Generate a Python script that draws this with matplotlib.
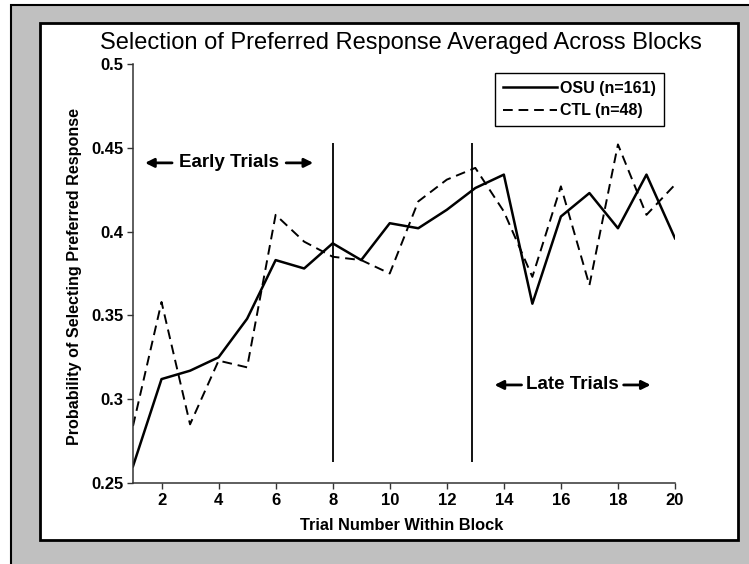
import matplotlib
matplotlib.use('Agg')
import matplotlib.pyplot as plt
from matplotlib.patches import Rectangle

# data
trials = list(range(1, 21))
osu = [0.260, 0.312, 0.317, 0.325, 0.348, 0.383, 0.378, 0.393, 0.383, 0.405,
       0.402, 0.413, 0.426, 0.434, 0.357, 0.409, 0.423, 0.402, 0.434, 0.396]
ctl = [0.284, 0.358, 0.285, 0.323, 0.319, 0.410, 0.394, 0.385, 0.383, 0.375,
       0.418, 0.431, 0.438, 0.412, 0.373, 0.427, 0.368, 0.452, 0.410, 0.428]
osu_label = 'OSU (n=161)'
ctl_label = 'CTL (n=48)'
divider_x = [8, 12.87]
xticks = list(range(2, 21, 2))
yticks = [0.25, 0.3, 0.35, 0.4, 0.45, 0.5]
ytick_labels = ['0.25', '0.3', '0.35', '0.4', '0.45', '0.5']

plt.rcParams['font.family'] = ['Liberation Sans', 'DejaVu Sans']

W, H = 749, 564
PX = 1 / 28.5  # trial units per pixel along x
fig = plt.figure(figsize=(W / 100, H / 100), dpi=100)
fig.patch.set_facecolor('white')

# gray frame and white panel behind the chart
fig.add_artist(Rectangle((11 / W, -0.1), 1.2, 1 - 5 / H + 0.1, transform=fig.transFigure,
                         facecolor='#c0c0c0', edgecolor='black', lw=1.5, zorder=-5))
fig.add_artist(Rectangle((40 / W, 1 - 540 / H), (738 - 40) / W, (540 - 23) / H,
                         transform=fig.transFigure, facecolor='white',
                         edgecolor='black', lw=2, zorder=-4))

ax = fig.add_axes([133 / W, 1 - 483 / H, (675 - 133) / W, (483 - 64) / H])
ax.patch.set_alpha(0)

ax.plot(trials, osu, color='black', lw=1.8, label=osu_label)
ax.plot(trials, ctl, color='black', lw=1.4, dashes=(5, 3), label=ctl_label)
ax.vlines(divider_x, 0.2625, 0.453, color='black', lw=1.3)

ax.set_xlim(1, 20)
ax.set_ylim(0.25, 0.5)
ax.set_xticks(xticks)
ax.set_yticks(yticks)
ax.set_yticklabels(ytick_labels)
for s in ['top', 'right']:
    ax.spines[s].set_visible(False)
for s in ['left', 'bottom']:
    ax.spines[s].set_color('#333333')
    ax.spines[s].set_linewidth(1.1)
ax.tick_params(direction='out', length=4, width=1, color='#333333',
               labelsize=12, pad=3)
for lab in ax.get_xticklabels() + ax.get_yticklabels():
    lab.set_fontweight('bold')

ax.set_xlabel('Trial Number Within Block', fontsize=11.8, fontweight='bold')
ax.set_ylabel('Probability of Selecting Preferred Response', fontsize=11.6, fontweight='bold')
ax.xaxis.set_label_coords(0.496, -0.083)
ax.yaxis.set_label_coords(-0.094, 0.493)

# region labels with arrows on both sides
arrow = dict(arrowstyle='-|>', color='black', lw=2, mutation_scale=13,
             shrinkA=0, shrinkB=0)
regions = [('Early Trials', 4.37, 0.441, 57, 84), ('Late Trials', 16.41, 0.3085, 51, 78)]
for name, xc, yc, inner, outer in regions:
    ax.text(xc, yc, name, ha='center', va='center', fontsize=13.5, fontweight='bold')
    ax.annotate('', xy=(xc - outer * PX, yc), xytext=(xc - inner * PX, yc), arrowprops=arrow)
    ax.annotate('', xy=(xc + outer * PX, yc), xytext=(xc + inner * PX, yc), arrowprops=arrow)

leg = ax.legend(loc='upper right', bbox_to_anchor=(664 / W, 1 - 73 / H),
                bbox_transform=fig.transFigure, fancybox=False, framealpha=1,
                edgecolor='black', handlelength=3.4, handletextpad=0.2,
                borderpad=0.5, labelspacing=0.45, borderaxespad=0,
                prop={'weight': 'bold', 'size': 11.5})
leg.get_frame().set_linewidth(1)

fig.text(401 / W, 1 - 43 / H, 'Selection of Preferred Response Averaged Across Blocks',
         ha='center', va='center', fontsize=17)

fig.savefig('out.png', dpi=100)
